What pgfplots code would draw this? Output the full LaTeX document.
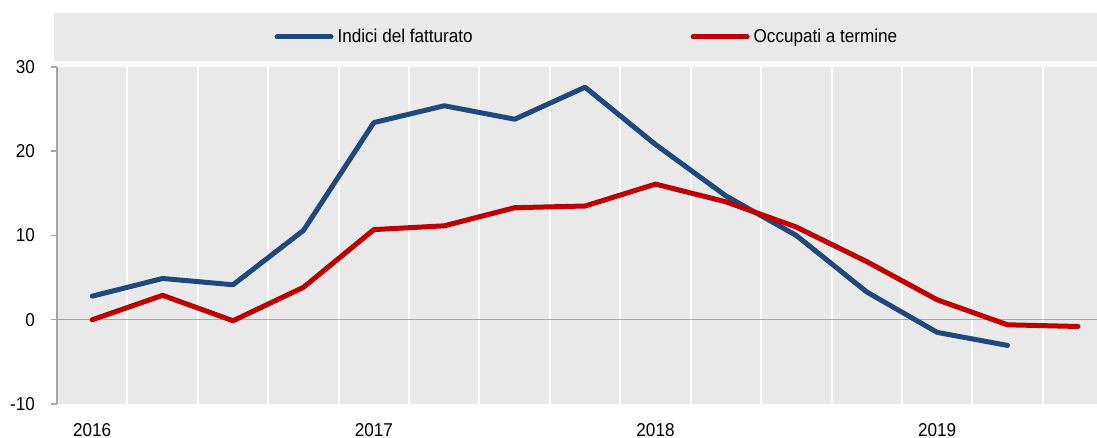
\documentclass[border=0pt]{standalone}
\usepackage{fontspec}
\setmainfont[FakeStretch=0.92]{Liberation Sans}
\usepackage{pgfplots}
\pgfplotsset{compat=1.18}
\definecolor{bgray}{RGB}{233,233,233}
\definecolor{lblue}{RGB}{31,73,125}
\definecolor{lred}{RGB}{192,0,0}
\definecolor{agray}{RGB}{166,166,166}
\begin{document}
\begin{tikzpicture}
\fill[bgray] (-1.5pt,171.5pt) rectangle (520pt,195.5pt);
\begin{axis}[
  at={(0,0)}, anchor=south west,
  scale only axis, width=520pt, height=168.5pt,
  xmin=-0.5, xmax=14.27, ymin=-10, ymax=30,
  axis background/.style={fill=bgray},
  axis x line=bottom, axis y line=left, axis line style={-},
  x axis line style={draw=none},
  y axis line style={draw=agray, line width=0.75pt},
  xtick={0,4,8,12}, xticklabels={2016,2017,2018,2019},
  xtick style={draw=none},
  minor xtick={0.5,1.5,...,13.5},
  minor x tick style={draw=none},
  xminorgrids=true,
  minor grid style={white, line width=1pt},
  ytick={-10,0,10,20,30},
  ytick style={draw=agray, line width=0.75pt},
  tick align=outside, major tick length=3pt,
  extra y ticks={0}, extra y tick labels={},
  extra y tick style={grid=major, major grid style={agray, line width=0.75pt}, tick style={draw=none}},
  /pgf/number format/assume math mode=true,
  tick label style={font=\fontsize{9.3}{11}\selectfont, text=black},
  yticklabel style={xshift=-4.5pt},
  xticklabel style={yshift=-3pt},
  legend style={at={(axis description cs:0.5105,1.089)}, anchor=center,
    draw=none, fill=none, font=\fontsize{9.3}{11}\selectfont,
    legend columns=2, inner sep=0pt},
  legend image post style={line width=2.5pt},
  legend cell align=left,
  /tikz/every even column/.append style={column sep=107pt},
  legend image code/.code={\draw[#1] (0pt,0pt) -- (27pt,0pt);},
]
\addplot[lblue, line width=2.5pt, line join=round, line cap=round] coordinates {
(0,2.8) (1,4.9) (2,4.15) (3,10.6) (4,23.4) (5,25.4) (6,23.8) (7,27.6)
(8,20.8) (9,14.7) (10,10.0) (11,3.3) (12,-1.5) (13,-3.05)};
\addlegendentry{Indici del fatturato}
\addplot[lred, line width=2.5pt, line join=round, line cap=round] coordinates {
(0,0.0) (1,2.9) (2,-0.12) (3,3.85) (4,10.7) (5,11.15) (6,13.3) (7,13.5)
(8,16.1) (9,14.0) (10,11.0) (11,6.9) (12,2.37) (13,-0.6) (14,-0.8)};
\addlegendentry{Occupati a termine}
\end{axis}
\pgfresetboundingbox
\useasboundingbox (-28.5pt,-17pt) rectangle (520pt,202pt);
\end{tikzpicture}
\end{document}
